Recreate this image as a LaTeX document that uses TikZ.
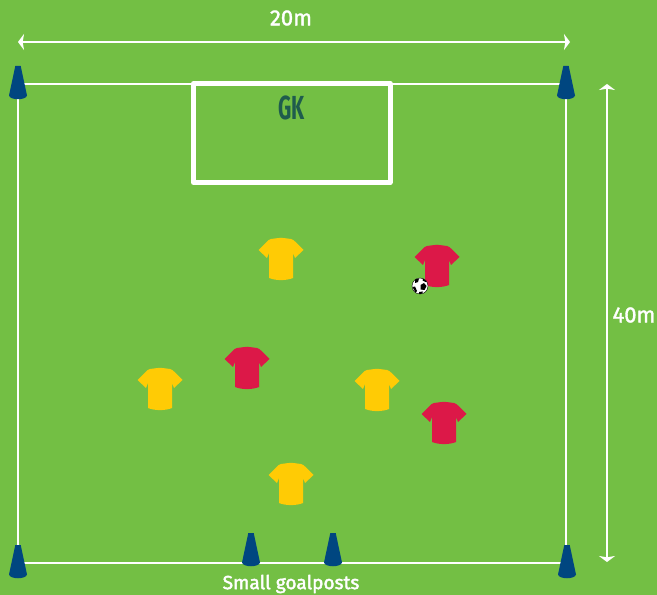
\documentclass[tikz,border=0pt]{standalone}
\usepackage{fontspec}
\setmainfont{Fira Sans}
\newfontfamily\labfont[FakeBold=1.6]{Fira Sans}
\newfontfamily\goalfont[FakeBold=2.2]{Fira Sans}
\usetikzlibrary{arrows.meta}
\definecolor{pitch}{HTML}{73BF44}
\definecolor{conec}{HTML}{004680}
\definecolor{shirty}{HTML}{FFCB05}
\definecolor{shirtr}{HTML}{DC1848}
\definecolor{gkc}{HTML}{1F5C4D}
\tikzset{
  x=0.75pt,y=-0.75pt,
  fieldline/.style={draw=white,line width=2.15pt},
  dimline/.style={draw=white,line width=2.15pt,{Triangle[width=12pt,length=4.5pt,inset=1pt]}-{Triangle[width=12pt,length=4.5pt,inset=1pt]}},
  labeltext/.style={text=white,font=\labfont\fontsize{16.5pt}{18pt}\selectfont,inner sep=0pt},
  shirt/.pic={
    \fill[pic actions] (-4,-20.8) .. controls (-1,-21.4) and (1,-21.4) .. (4,-20.8)
      -- (10,-20) .. controls (12,-19.4) and (13,-18.6) .. (14,-17.5)
      -- (22.5,-9) -- (14,-1) -- (12,-6) -- (12,19)
      .. controls (5,21.8) and (-5,21.8) .. (-12,19) -- (-12,-6) -- (-14,-1) -- (-22.5,-9)
      -- (-14,-17.5) .. controls (-13,-18.6) and (-12,-19.4) .. (-10,-20) -- cycle;
  },
  cone/.pic={
    \fill[conec] (-2.7,-17) -- (2.7,-17) -- (9,12.5)
      .. controls (8,17.5) and (-8,17.5) .. (-9,12.5) -- cycle;
  },
}
\begin{document}
\begin{tikzpicture}
\fill[pitch] (0,0) rectangle (657,595);
\useasboundingbox (0,0) rectangle (657,595);
% field
\coordinate (tl) at (18,84);
\coordinate (tr) at (566,84);
\coordinate (br) at (566,563);
\coordinate (bl) at (18,563);
\draw[fieldline] (tl) -- (tr) -- (br) -- (bl) -- cycle;
% penalty box
\draw[draw=white,line width=3.75pt,line join=round] (193.5,83.5) rectangle (390,182.5);
\node[text=gkc,inner sep=0pt,font=\fontsize{25pt}{26pt}\selectfont\bfseries] (gk) at (291.5,108) {\scalebox{0.62}[1]{GK}};
% dimensions
\coordinate (da) at (18,42);
\coordinate (db) at (570,42);
\coordinate (dc) at (607,84);
\coordinate (dd) at (607,562);
\draw[dimline] (da) -- (db);
\draw[dimline] (dc) -- (dd);
\node[labeltext] (l20) at (291,18) {20m};
\node[labeltext] (l40) at (634,315) {40m};
\node[labeltext,font=\goalfont\fontsize{14.3pt}{16pt}\selectfont] (lgoal) at (291,584) {Small goalposts};
% cones
\pic at (18,83) {cone};
\pic at (566,83) {cone};
\pic at (18,562) {cone};
\pic at (567,562) {cone};
\pic at (251,550) {cone};
\pic at (333,550) {cone};
% shirts
\pic[fill=shirty] at (281,259) {shirt};
\pic[fill=shirty] at (160,389) {shirt};
\pic[fill=shirty] at (377,390) {shirt};
\pic[fill=shirty] at (291,484) {shirt};
\pic[fill=shirtr] at (437,266) {shirt};
\pic[fill=shirtr] at (247,368) {shirt};
\pic[fill=shirtr] at (444,423) {shirt};
% ball
\fill[white] (420,286) circle (8);
\fill[black] (420.5,285) -- (424,283) -- (426.5,286) -- (424.5,290) -- (420.5,289.5) -- cycle;
\fill[black] (415,279.5) -- (419,278.5) -- (418,282) -- (415,283) -- cycle;
\fill[black] (412.5,287) -- (415,286.5) -- (417,291) -- (415.5,292.5) -- cycle;
\fill[black] (423,278.7) -- (426.5,281) -- (425.5,282) -- (422.5,280.5) -- cycle;
\fill[black] (419,292) -- (423,291.5) -- (422,293.7) -- (419,293.9) -- cycle;
\draw[black,line width=0.3pt] (420,286) circle (8);
\end{tikzpicture}
\end{document}
